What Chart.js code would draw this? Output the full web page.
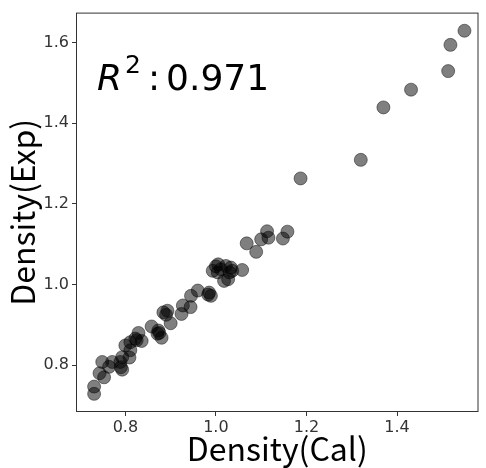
<!DOCTYPE html>
<html>
<head>
<meta charset="utf-8">
<script src="https://cdn.jsdelivr.net/npm/chart.js@4/dist/chart.umd.min.js"></script>
<style>
  html, body { margin: 0; padding: 0; background: #fff; }
  #wrap { width: 486px; height: 468px; }
</style>
</head>
<body>
<div id="wrap"><canvas id="myChart" width="486" height="468"></canvas></div>
<script>
'use strict';

// values
let calValues = [
  1.549, 1.518, 1.513, 1.431, 1.370, 1.320, 1.187,
  1.113, 1.100, 1.116, 1.158, 1.148, 1.068, 1.089,
  0.993, 1.005, 1.011, 1.022, 1.033, 1.036, 1.058, 1.018, 1.027, 1.004, 1.000, 1.030,
  0.960, 0.945, 0.985, 0.989, 0.983, 0.927, 0.944, 0.924, 0.893, 0.884, 0.890, 0.900,
  0.858, 0.873, 0.871, 0.880, 0.875,
  0.829, 0.822, 0.811, 0.836, 0.825, 0.800, 0.811, 0.809, 0.793, 0.789, 0.793, 0.790,
  0.771, 0.749, 0.764, 0.743, 0.753, 0.731, 0.731
];
let expValues = [
  1.629, 1.594, 1.529, 1.483, 1.439, 1.309, 1.263,
  1.132, 1.112, 1.116, 1.131, 1.114, 1.102, 1.081,
  1.034, 1.050, 1.038, 1.046, 1.042, 1.034, 1.036, 1.009, 1.013, 1.030, 1.045, 1.030,
  0.985, 0.972, 0.980, 0.972, 0.975, 0.948, 0.944, 0.927, 0.935, 0.931, 0.925, 0.904,
  0.896, 0.886, 0.878, 0.868, 0.880,
  0.880, 0.866, 0.857, 0.860, 0.862, 0.849, 0.837, 0.819, 0.820, 0.808, 0.789, 0.795,
  0.808, 0.808, 0.796, 0.780, 0.770, 0.747, 0.729
];
let xTicks = [0.8, 1.0, 1.2, 1.4];
let yTicks = [0.8, 1.0, 1.2, 1.4, 1.6];
let r2Value = '0.971';

let tickFont = '"DejaVu Sans", sans-serif';
let titleFont = '"Noto Sans CJK JP", "Noto Sans", sans-serif';

let points = [];
for (let i = 0; i < calValues.length; i++) {
  points.push({ x: calValues[i], y: expValues[i] });
}

// frame round the plot and the R^2 note
const framePlugin = {
  id: 'frame',
  afterDraw(chart) {
    let ctx = chart.ctx;
    let a = chart.chartArea;
    ctx.save();
    ctx.strokeStyle = '#333';
    ctx.lineWidth = 1;
    ctx.strokeRect(a.left + 0.5, a.top + 0.5, a.right - a.left - 1, a.bottom - a.top - 1);

    ctx.fillStyle = '#000';
    ctx.textBaseline = 'alphabetic';
    let x = a.left + 21;
    let y = a.top + 77;
    ctx.font = 'italic 36px "DejaVu Sans"';
    ctx.fillText('R', x, y);
    x += ctx.measureText('R').width + 3;
    ctx.font = '25px "DejaVu Sans"';
    ctx.fillText('2', x, y - 17);
    x += ctx.measureText('2').width + 7;
    ctx.font = '36px "DejaVu Sans"';
    ctx.fillText(':', x, y);
    x += ctx.measureText(':').width + 6;
    ctx.fillText(r2Value, x, y);
    ctx.restore();
  }
};

const config = {
  type: 'scatter',
  data: {
    datasets: [{
      label: 'Density',
      data: points,
      backgroundColor: 'rgba(0, 0, 0, 0.5)',
      borderColor: 'rgba(0, 0, 0, 0.45)',
      borderWidth: 1,
      pointRadius: 6.5,
    }],
  },
  options: {
    responsive: false,
    animation: false,
    events: [],
    layout: { padding: { top: 10, right: 2, left: 0, bottom: 0 } },
    plugins: {
      legend: { display: false },
      tooltip: { enabled: false },
    },
    scales: {
      x: {
        type: 'linear',
        min: 0.691,
        max: 1.58,
        afterBuildTicks(scale) {
          scale.ticks = xTicks.map(v => ({ value: v }));
        },
        afterFit(scale) { scale.height = 56; },
        grid: { display: true, drawOnChartArea: false, tickLength: 4, color: '#333' },
        border: { display: false },
        ticks: {
          color: '#333',
          padding: 2,
          font: { family: tickFont, size: 16 },
          callback: v => v.toFixed(1),
        },
        title: {
          display: true,
          text: 'Density(Cal)',
          color: '#000',
          padding: { top: -4, bottom: 0 },
          font: { family: titleFont, size: 32 },
        },
      },
      y: {
        type: 'linear',
        min: 0.684,
        max: 1.674,
        afterBuildTicks(scale) {
          scale.ticks = yTicks.map(v => ({ value: v }));
        },
        afterFit(scale) { scale.width = 76; },
        grid: { display: true, drawOnChartArea: false, tickLength: 4, color: '#333' },
        border: { display: false },
        ticks: {
          color: '#333',
          padding: 3,
          font: { family: tickFont, size: 16 },
          callback: v => v.toFixed(1),
        },
        title: {
          display: true,
          text: 'Density(Exp)',
          color: '#000',
          padding: { top: 4, bottom: 0 },
          font: { family: titleFont, size: 32 },
        },
      },
    },
  },
  plugins: [framePlugin],
};

let chartCanvas = document.getElementById('myChart').getContext('2d');
const myChart = new Chart(chartCanvas, config);
</script>
</body>
</html>
